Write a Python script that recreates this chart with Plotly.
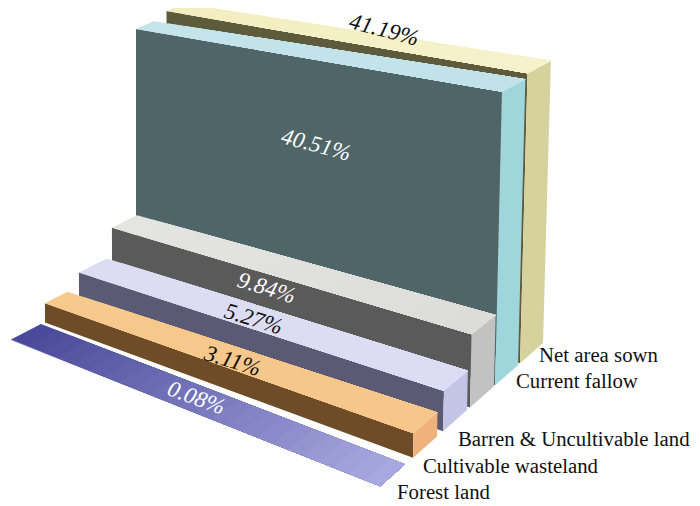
import plotly.graph_objects as go

categories = ["Forest land", "Cultivable wasteland", "Barren & Uncultivable land",
              "Other fallow", "Current fallow", "Net area sown"]
values = [0.08, 3.11, 5.27, 9.84, 40.51, 41.19]
value_labels = ["0.08%", "3.11%", "5.27%", "9.84%", "40.51%", "41.19%"]

front_colors = ["#5a5aa8", "#6e4c28", "#5a5a75", "#5a5a5a", "#4f6568", "#5e5a3c"]
top_left = ["#484898", "#f6c98c", "#dcdcf2", "#e4e4e2", "#c4e4ea", "#f2eec0"]
top_right = ["#aaaae2", "#f6c68a", "#dcdcf4", "#dcdcd8", "#c0e2e8", "#f6f2cc"]
side_colors = ["#aaaae2", "#eeb27a", "#c4c4e6", "#c2c2c2", "#9fd6dc", "#d6d29e"]

W, H = 700, 506
PAGE_MARGIN = 8

# Oblique projection of the chart's floor: corners of the left and right ends
LEFT_NEAR, LEFT_FAR = (11, 340), (182, 252)
RIGHT_NEAR, RIGHT_FAR = (380, 487), (543, 343)
LEFT_FRONT = [0.0, 0.199, 0.398, 0.591, 0.731, 0.906]
LEFT_BACK = [0.175, 0.33, 0.56, 0.737, 0.83, 1.0]
RIGHT_FRONT = [0.0, 0.2025, 0.387, 0.552, 0.706, 0.859]
RIGHT_BACK = [0.153, 0.35, 0.534, 0.699, 0.847, 1.0]
LEAN = 0.00047


def project(u, tl, tr, z):
    lx = LEFT_NEAR[0] + (LEFT_FAR[0] - LEFT_NEAR[0]) * tl
    ly = LEFT_NEAR[1] + (LEFT_FAR[1] - LEFT_NEAR[1]) * tl
    rx = RIGHT_NEAR[0] + (RIGHT_FAR[0] - RIGHT_NEAR[0]) * tr
    ry = RIGHT_NEAR[1] + (RIGHT_FAR[1] - RIGHT_NEAR[1]) * tr
    px, py = lx + (rx - lx) * u, ly + (ry - ly) * u
    kl, kr = 6.25 - 0.22 * tl, 8.2 - 1.35 * tr
    k = kl + (kr - kl) * u
    return px + z * (px - 135) * LEAN, py - z * k


def mix(c1, c2, t):
    p = [int(c1[k:k + 2], 16) for k in (1, 3, 5)]
    q = [int(c2[k:k + 2], 16) for k in (1, 3, 5)]
    return "rgb(%d,%d,%d)" % tuple(round(m + (n - m) * t) for m, n in zip(p, q))


fig = go.Figure()


def poly(pts, color, name):
    fig.add_trace(go.Scatter(x=[p[0] for p in pts] + [pts[0][0]], y=[p[1] for p in pts] + [pts[0][1]],
                             mode="lines", fill="toself", fillcolor=color,
                             line=dict(color=color, width=0), hoverinfo="name", name=name))


STRIPS = 24
for i in reversed(range(len(values))):
    val, name = values[i], categories[i]
    f = (LEFT_FRONT[i], RIGHT_FRONT[i])
    b = (LEFT_BACK[i], RIGHT_BACK[i])
    poly([project(0, *f, 0), project(1, *f, 0), project(1, *f, val), project(0, *f, val)], front_colors[i], name)
    poly([project(1, *f, 0), project(1, *b, 0), project(1, *b, val), project(1, *f, val)], side_colors[i], name)
    for s in range(STRIPS):
        u0, u1 = s / STRIPS, 1.0
        poly([project(u0, *f, val), project(u1, *f, val), project(u1, *b, val), project(u0, *b, val)],
             mix(top_left[i], top_right[i], (s + 0.5) / STRIPS), name)


def ann(px, py, text, size, color="#111", angle=0, italic=False, xanchor="center"):
    fig.add_annotation(x=px, y=py, xref="x", yref="y", text=text, showarrow=False,
                       textangle=angle, xanchor=xanchor, yanchor="middle",
                       font=dict(family="Liberation Serif", size=size, color=color,
                                 style="italic" if italic else "normal"))


label_pos = [(196, 397, 20, "#fff"), (232, 360, 17, "#111"), (253, 318, 17, "#111"),
             (266, 287, 17, "#fff"), (316, 144, 15, "#fff"), (384, 29, 15, "#111")]
for lab, (px, py, ang, col) in zip(value_labels, label_pos):
    ann(px, py, lab, 23, col, ang, True)

name_pos = {"Net area sown": (537, 354), "Current fallow": (514, 380),
            "Barren & Uncultivable land": (456, 438), "Cultivable wasteland": (421, 465),
            "Forest land": (395, 491)}
for t, (px, py) in name_pos.items():
    ann(px, py, t, 20.8, "#111", 0, False, "left")

fig.update_layout(
    width=W - PAGE_MARGIN, height=H - PAGE_MARGIN, margin=dict(l=0, r=0, t=0, b=0), showlegend=False,
    paper_bgcolor="white", plot_bgcolor="white",
    xaxis=dict(visible=False, range=[PAGE_MARGIN, W], fixedrange=True),
    yaxis=dict(visible=False, range=[H, PAGE_MARGIN], fixedrange=True),
)
fig.write_html("out.html")
